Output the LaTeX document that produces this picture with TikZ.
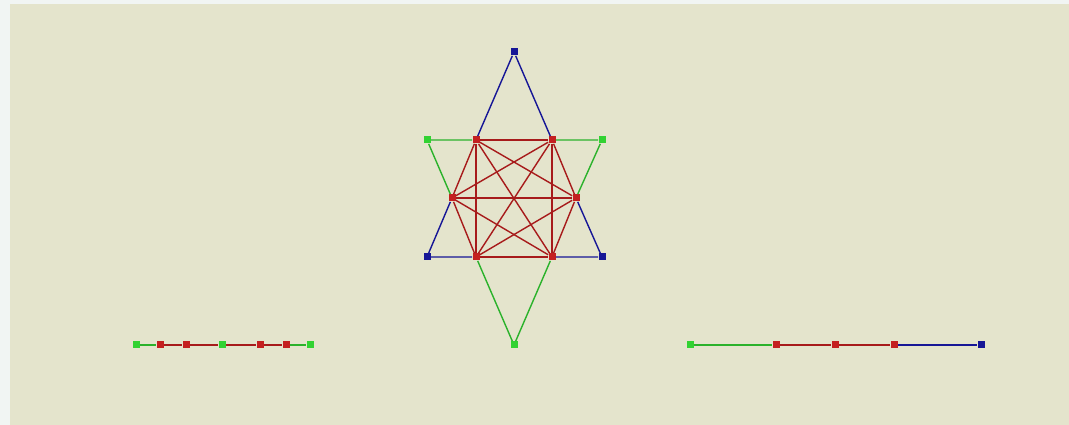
\documentclass[tikz,border=0pt]{standalone}
\usetikzlibrary{positioning}
\definecolor{framebg}{RGB}{241,245,243}
\definecolor{panelbg}{RGB}{228,228,204}
\definecolor{vgreen}{RGB}{50,210,50}
\definecolor{vred}{RGB}{196,32,32}
\definecolor{vblue}{RGB}{22,22,150}

\begin{document}
\begin{tikzpicture}[x=0.02cm, y=-0.02cm,
    vtx/.style={rectangle, inner sep=0pt, minimum size=0.14cm},
    gv/.style={vtx, fill=vgreen},
    rv/.style={vtx, fill=vred},
    bv/.style={vtx, fill=vblue},
    ge/.style={line width=0.8pt, vgreen!85!black},
    re/.style={line width=0.8pt, vred!85!black},
    be/.style={line width=0.8pt, vblue}]
    % frame and panel
    \fill[framebg] (0,0) rectangle (1069,425);
    \fill[panelbg] (10,4) rectangle (1069,425);

    % star
    \node[bv] (bt) at (514,52) {};
    \node[gv] (gl) at (427,140) {};
    \node[gv] (gr) at (602,140) {};
    \node[rv] (r1) at (476,140) {};
    \node[rv] (r2) at (552,140) {};
    \node[rv] (r3) at (452,198) {};
    \node[rv] (r4) at (576,198) {};
    \node[rv] (r5) at (476,257) {};
    \node[rv] (r6) at (552,257) {};
    \node[bv] (bl) at (427,257) {};
    \node[bv] (br) at (602,257) {};
    \node[gv] (gb) at (514,345) {};

    \foreach \a/\b in {1/2,1/3,1/4,1/5,1/6,2/3,2/4,2/5,2/6,3/4,3/5,3/6,4/5,4/6,5/6}
      \draw[re] (r\a) -- (r\b);
    \draw[be] (bt) -- (r1) (r3) -- (bl) (bl) -- (r5);
    \draw[be] (bt) -- (r2) (r4) -- (br) (br) -- (r6);
    \draw[ge] (gl) -- (r1) (gl) -- (r3) (r5) -- (gb);
    \draw[ge] (gr) -- (r2) (gr) -- (r4) (r6) -- (gb);

    % left chain
    \node[gv] (a1) at (136,345) {};
    \node[rv] (a2) at (160,345) {};
    \node[rv] (a3) at (186,345) {};
    \node[gv] (a4) at (222,345) {};
    \node[rv] (a5) at (260,345) {};
    \node[rv] (a6) at (286,345) {};
    \node[gv] (a7) at (310,345) {};
    \draw[ge] (a1) -- (a2) (a6) -- (a7);
    \draw[re] (a2) -- (a3) (a3) -- (a4) (a4) -- (a5) (a5) -- (a6);

    % right chain
    \node[gv] (b1) at (690,345) {};
    \node[rv] (b2) at (776,345) {};
    \node[rv] (b3) at (835,345) {};
    \node[rv] (b4) at (894,345) {};
    \node[bv] (b5) at (981,345) {};
    \draw[ge] (b1) -- (b2);
    \draw[re] (b2) -- (b3) (b3) -- (b4);
    \draw[be] (b4) -- (b5);
\end{tikzpicture}
\end{document}
